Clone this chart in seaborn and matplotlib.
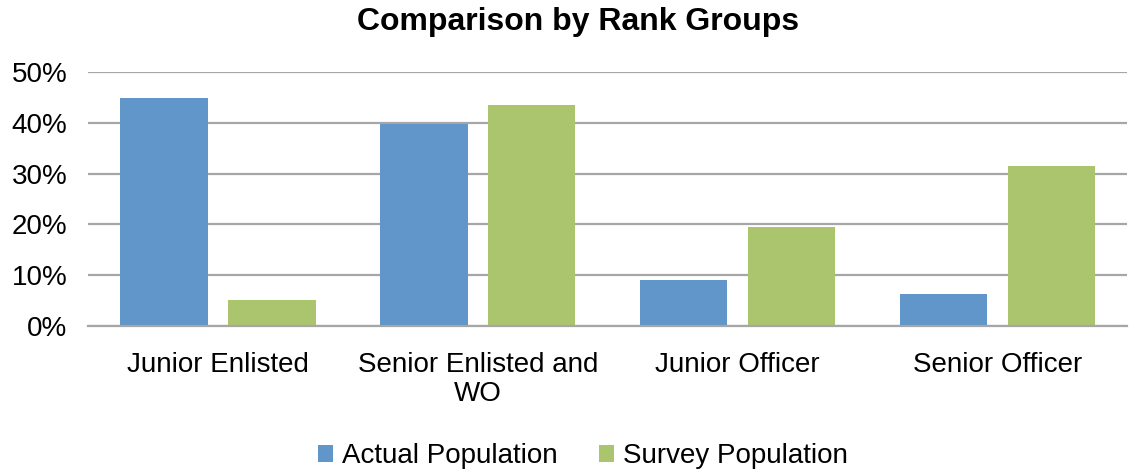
import matplotlib
matplotlib.use("Agg")
import matplotlib.pyplot as plt
import seaborn as sns
import pandas as pd
from matplotlib.ticker import PercentFormatter

categories = ["Junior Enlisted", "Senior Enlisted and\nWO", "Junior Officer", "Senior Officer"]
actual_pop = [44.9, 39.7, 9.1, 6.2]
survey_pop = [5.2, 43.6, 19.5, 31.5]
series_names = ["Actual Population", "Survey Population"]
colors = ["#6096C9", "#ABC56E"]

df = pd.DataFrame({
    "category": categories * 2,
    "series": [series_names[0]] * 4 + [series_names[1]] * 4,
    "value": actual_pop + survey_pop,
})

sns.set_style("white")
plt.rcParams["font.family"] = ["Liberation Sans", "DejaVu Sans"]
plt.rcParams["text.color"] = "black"
plt.rcParams["xtick.color"] = "black"
plt.rcParams["ytick.color"] = "black"

fig = plt.figure(figsize=(11.31, 4.71), dpi=100)
ax = fig.add_axes([0.0778, 0.308, 0.919, 0.539])

sns.barplot(data=df, x="category", y="value", hue="series",
            palette=colors, width=0.83, gap=0.19, ax=ax, saturation=1,
            linewidth=0)

ax.set_ylim(0, 50)
ax.set_yticks(range(0, 51, 10))
ax.yaxis.set_major_formatter(PercentFormatter(decimals=0))
ax.grid(axis="y", color="#A6A6A6", linewidth=1.6)
ax.set_axisbelow(True)
for s in ["top", "right", "left"]:
    ax.spines[s].set_visible(False)
ax.spines["bottom"].set_color("#A6A6A6")
ax.spines["bottom"].set_linewidth(1.6)
ax.tick_params(axis="y", length=0, labelsize=20, pad=15)
ax.tick_params(axis="x", length=0, labelsize=20, pad=19)
for lbl in ax.get_xticklabels():
    lbl.set_linespacing(1.15)
ax.set_xlabel("")
ax.set_ylabel("")

fig.suptitle("Comparison by Rank Groups", fontsize=23, fontweight="bold",
             x=0.511, y=0.985)

ax.legend(loc="lower center", bbox_to_anchor=(0.476, -0.62), ncol=2, frameon=False,
          fontsize=20, handlelength=0.55, handleheight=0.55, handletextpad=0.3,
          columnspacing=1.5, borderpad=0)

fig.savefig("out.png", dpi=100)
